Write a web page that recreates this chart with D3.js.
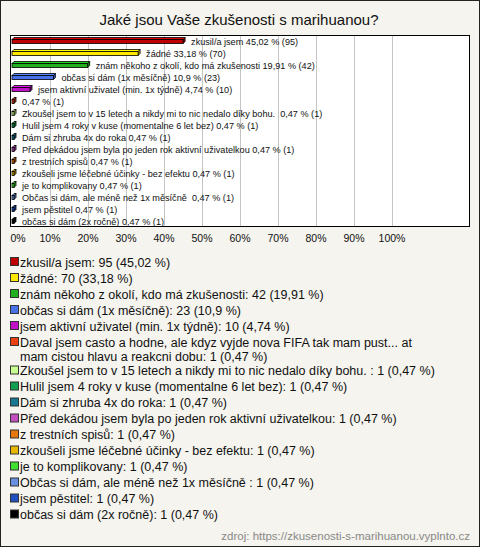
<!DOCTYPE html>
<html><head><meta charset="utf-8">
<script src="https://cdn.jsdelivr.net/npm/d3@7/dist/d3.min.js"></script>
<style>body{margin:0;background:#fff}svg{display:block}</style>
</head><body>
<script>
const title = "Jaké jsou Vaše zkušenosti s marihuanou?";
const categories = [
  "zkusil/a jsem",
  "žádné",
  "znám někoho z okolí, kdo má zkušenosti",
  "občas si dám (1x měsíčně)",
  "jsem aktivní uživatel (min. 1x týdně)",
  "Daval jsem casto a hodne, ale kdyz vyjde nova FIFA tak mam pust... at mam cistou hlavu a reakcni dobu",
  "Zkoušel jsem to v 15 letech a nikdy mi to nic nedalo díky bohu. ",
  "Hulil jsem 4 roky v kuse (momentalne 6 let bez)",
  "Dám si zhruba 4x do roka",
  "Před dekádou jsem byla po jeden rok aktivní uživatelkou",
  "z trestních spisů",
  "zkoušeli jsme léčebné účinky - bez efektu",
  "je to komplikovany",
  "Občas si dám, ale méně než 1x měsíčně ",
  "jsem pěstitel",
  "občas si dám (2x ročně)"
];
// short labels used next to bars (first custom answer label omitted in original)
const barNames = categories.map((c,i)=> i===5 ? "" : c);
const counts = [95,70,42,23,10,1,1,1,1,1,1,1,1,1,1,1];
const percents = [45.02,33.18,19.91,10.9,4.74,0.47,0.47,0.47,0.47,0.47,0.47,0.47,0.47,0.47,0.47,0.47];
const colors = ["#c00000","#ffe800","#20b020","#4a72e8","#c010c8","#e84010","#c8ff90","#10a050","#187890","#c050c0","#e87810","#e8b800","#40e030","#6890e0","#2050c0","#000000"];
const tickValues = [0,10,20,30,40,50,60,70,80,90,100];
const legendLines = [
  ["zkusil/a jsem: 95 (45,02 %)"],
  ["žádné: 70 (33,18 %)"],
  ["znám někoho z okolí, kdo má zkušenosti: 42 (19,91 %)"],
  ["občas si dám (1x měsíčně): 23 (10,9 %)"],
  ["jsem aktivní uživatel (min. 1x týdně): 10 (4,74 %)"],
  ["Daval jsem casto a hodne, ale kdyz vyjde nova FIFA tak mam pust... at","mam cistou hlavu a reakcni dobu: 1 (0,47 %)"],
  ["Zkoušel jsem to v 15 letech a nikdy mi to nic nedalo díky bohu. : 1 (0,47 %)"],
  ["Hulil jsem 4 roky v kuse (momentalne 6 let bez): 1 (0,47 %)"],
  ["Dám si zhruba 4x do roka: 1 (0,47 %)"],
  ["Před dekádou jsem byla po jeden rok aktivní uživatelkou: 1 (0,47 %)"],
  ["z trestních spisů: 1 (0,47 %)"],
  ["zkoušeli jsme léčebné účinky - bez efektu: 1 (0,47 %)"],
  ["je to komplikovany: 1 (0,47 %)"],
  ["Občas si dám, ale méně než 1x měsíčně : 1 (0,47 %)"],
  ["jsem pěstitel: 1 (0,47 %)"],
  ["občas si dám (2x ročně): 1 (0,47 %)"]
];
const source = "zdroj: https://zkusenosti-s-marihuanou.vyplnto.cz";

const W = 480, H = 547;
const font = "'Liberation Sans', Arial, sans-serif";
const svg = d3.select("body").append("svg").attr("width",W).attr("height",H);
svg.append("rect").attr("x",0.5).attr("y",0.5).attr("width",W-1).attr("height",H-1)
  .attr("fill","#f5f4ee").attr("stroke","#222");

svg.append("text").attr("x",239).attr("y",25).attr("text-anchor","middle")
  .attr("font-family",font).attr("font-size",15).attr("fill","#111").text(title);

const plot = {x0:10, x1:470, y0:35, y1:227};
const x = d3.scaleLinear().domain([0,120]).range([12, 12+38*12]);
const y = d3.scaleBand().domain(d3.range(categories.length)).range([plot.y0, plot.y1]);

svg.append("rect").attr("x",plot.x0+0.5).attr("y",plot.y0+0.5)
  .attr("width",plot.x1-plot.x0-1).attr("height",plot.y1-plot.y0-1)
  .attr("fill","#fff").attr("stroke","none");

// grid
svg.append("g").selectAll("line").data(tickValues.filter(v=>v>0)).join("line")
  .attr("x1",d=>Math.round(x(d))+0.5).attr("x2",d=>Math.round(x(d))+0.5)
  .attr("y1",plot.y0).attr("y2",plot.y1).attr("stroke","#c4c4c4");

svg.append("rect").attr("x",plot.x0+0.5).attr("y",plot.y0+0.5)
  .attr("width",plot.x1-plot.x0-1).attr("height",plot.y1-plot.y0-1)
  .attr("fill","none").attr("stroke","#000");

// bars (3D look)
const dep = 2;
const bars = svg.append("g");
categories.forEach((c,i)=>{
  const cy = y(i) + y.bandwidth()/2;
  const xa = x(0), xb = Math.max(x(percents[i]), xa+2);
  const top = Math.round(cy)-1.5, bot = Math.round(cy)+2.5;
  const col = d3.color(colors[i]);
  const g = bars.append("g");
  g.append("path").attr("d",`M${xb},${top}L${xb+dep},${top-dep}L${xb+dep},${bot-dep}L${xb},${bot}Z`)
    .attr("fill",col.darker(0.8)).attr("stroke","#000").attr("stroke-width",0.8);
  g.append("path").attr("d",`M${xa},${top}L${xa+dep},${top-dep}L${xb+dep},${top-dep}L${xb},${top}Z`)
    .attr("fill",col.brighter(0.5)).attr("stroke","#000").attr("stroke-width",0.8);
  g.append("rect").attr("x",xa).attr("y",top).attr("width",xb-xa).attr("height",bot-top)
    .attr("fill",colors[i]).attr("stroke","#000").attr("stroke-width",0.8);
  const name = barNames[i];
  const pct = String(percents[i]).replace(".",",");
  svg.append("text").attr("x",xb+8).attr("y",cy+3.5)
    .attr("font-family",font).attr("font-size",9.15).attr("fill","#111")
    .attr("xml:space","preserve").style("white-space","pre")
    .text((name ? name+" " : "") + pct + " % (" + counts[i] + ")");
});

// tick labels
svg.append("g").selectAll("text").data(tickValues).join("text")
  .attr("x",d=>Math.max(x(d), 18)).attr("y",242).attr("text-anchor","middle")
  .attr("font-family",font).attr("font-size",10.5).attr("fill","#111")
  .text(d=>d+"%");

// legend
let ly = 262;
legendLines.forEach((lines,i)=>{
  svg.append("rect").attr("x",10.5).attr("y",ly-4.5).attr("width",8).attr("height",8)
    .attr("fill",colors[i]).attr("stroke","#333").attr("stroke-width",1);
  lines.forEach((t,j)=>{
    svg.append("text").attr("x",20).attr("y",ly+4.5+j*14)
      .attr("font-family",font).attr("font-size",12.5).attr("fill","#111").text(t);
  });
  ly += 16 + (lines.length-1)*12.5;
});

svg.append("text").attr("x",470).attr("y",540).attr("text-anchor","end")
  .attr("font-family",font).attr("font-size",11.5).attr("fill","#888").text(source);
</script>
</body></html>
